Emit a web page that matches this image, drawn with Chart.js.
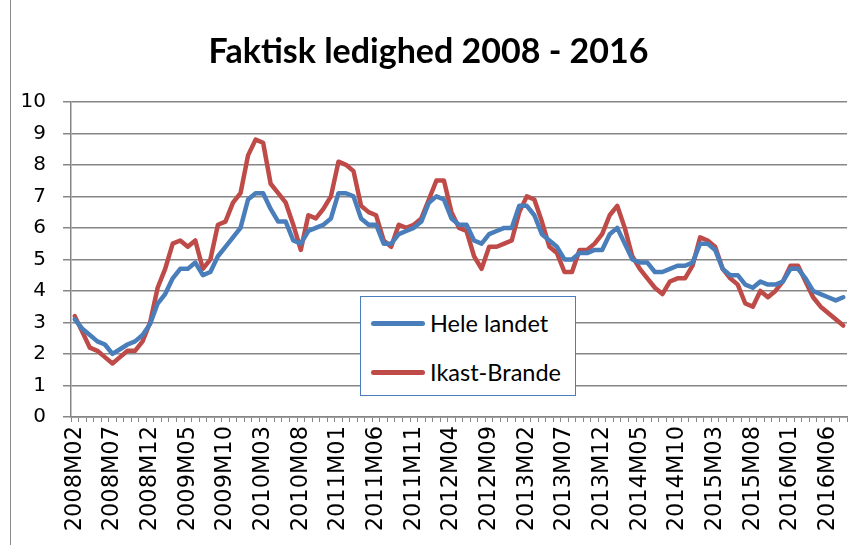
<!DOCTYPE html>
<html lang="da">
<head>
<meta charset="utf-8">
<title>Faktisk ledighed 2008 - 2016</title>
<script src="https://cdn.jsdelivr.net/npm/chart.js@4.4.0/dist/chart.umd.min.js"></script>
<style>
  body { margin: 0; background: #fff; }
  #wrap { position: relative; width: 852px; height: 545px; }
  #frame { position: absolute; left: 10px; top: 0; width: 0; height: 545px; border-left: 1px solid #8c8c8c; }
  #legend {
    position: absolute; left: 360px; top: 296px; width: 214px; height: 98px;
    border: 1px solid #4a7ebb; background: #fff;
    font-family: "Lato", sans-serif; font-size: 23.5px; color: #000;
  }
  #legend .item { position: absolute; left: 10px; display: flex; align-items: center; }
  #legend .swatch { width: 54px; height: 5px; border-radius: 3px; margin-right: 5px; }
</style>
</head>
<body>
<div id="wrap">
  <canvas id="myChart" width="852" height="545"></canvas>
  <div id="frame"></div>
  <div id="legend"></div>
</div>
<script>
// maaneder 2008M02 .. 2016M08
const months = [];
for (let y = 2008; y <= 2016; y++) {
  for (let m = 1; m <= 12; m++) {
    if (y === 2008 && m < 2) continue;
    if (y === 2016 && m > 8) continue;
    months.push(y + 'M' + String(m).padStart(2, '0'));
  }
}

const heleLandet = [
  3.1, 2.8, 2.6, 2.4, 2.3, 2.0, 2.15, 2.3, 2.4, 2.6, 2.95,
  3.6, 3.9, 4.4, 4.7, 4.7, 4.9, 4.5, 4.6, 5.1, 5.4, 5.7, 6.0,
  6.9, 7.1, 7.1, 6.6, 6.2, 6.2, 5.6, 5.5, 5.9, 6.0, 6.1, 6.3,
  7.1, 7.1, 7.0, 6.3, 6.1, 6.1, 5.5, 5.5, 5.8, 5.9, 6.0, 6.2,
  6.8, 7.0, 6.9, 6.3, 6.1, 6.1, 5.6, 5.5, 5.8, 5.9, 6.0, 6.0,
  6.7, 6.7, 6.4, 5.8, 5.6, 5.4, 5.0, 5.0, 5.2, 5.2, 5.3, 5.3,
  5.8, 6.0, 5.5, 5.0, 4.9, 4.9, 4.6, 4.6, 4.7, 4.8, 4.8, 4.9,
  5.5, 5.5, 5.3, 4.7, 4.5, 4.5, 4.2, 4.1, 4.3, 4.2, 4.2, 4.3,
  4.7, 4.7, 4.4, 4.0, 3.9, 3.8, 3.7, 3.8
];

const ikastBrande = [
  3.2, 2.7, 2.2, 2.1, 1.9, 1.7, 1.9, 2.1, 2.1, 2.4, 3.0,
  4.1, 4.7, 5.5, 5.6, 5.4, 5.6, 4.7, 5.0, 6.1, 6.2, 6.8, 7.1,
  8.3, 8.8, 8.7, 7.4, 7.1, 6.8, 6.1, 5.3, 6.4, 6.3, 6.6, 7.0,
  8.1, 8.0, 7.8, 6.7, 6.5, 6.4, 5.6, 5.4, 6.1, 6.0, 6.1, 6.3,
  6.9, 7.5, 7.5, 6.5, 6.0, 5.9, 5.1, 4.7, 5.4, 5.4, 5.5, 5.6,
  6.5, 7.0, 6.9, 6.2, 5.4, 5.2, 4.6, 4.6, 5.3, 5.3, 5.5, 5.8,
  6.4, 6.7, 6.0, 5.1, 4.7, 4.4, 4.1, 3.9, 4.3, 4.4, 4.4, 4.8,
  5.7, 5.6, 5.4, 4.7, 4.4, 4.2, 3.6, 3.5, 4.0, 3.8, 4.0, 4.3,
  4.8, 4.8, 4.3, 3.8, 3.5, 3.3, 3.1, 2.9
];

const gridColor = '#868686';

const data = {
  labels: months,
  datasets: [{
    label: 'Hele landet',
    data: heleLandet,
    borderColor: '#4a7ebb',
    backgroundColor: '#4a7ebb',
    borderWidth: 4.5,
    pointRadius: 0,
    tension: 0,
    borderJoinStyle: 'round',
    borderCapStyle: 'round'
  },
  {
    label: 'Ikast-Brande',
    data: ikastBrande,
    borderColor: '#be4b48',
    backgroundColor: '#be4b48',
    borderWidth: 4.5,
    pointRadius: 0,
    tension: 0,
    borderJoinStyle: 'round',
    borderCapStyle: 'round'
  }]
};

const config = {
  type: 'line',
  data: data,
  options: {
    responsive: false,
    animation: false,
    layout: { padding: { left: 10, right: 5, top: 0, bottom: 0 } },
    scales: {
      x: {
        offset: true,
        grid: { offset: true, drawOnChartArea: false, tickLength: 5, color: gridColor },
        border: { color: gridColor, width: 1.5 },
        ticks: {
          autoSkip: false,
          minRotation: 90,
          maxRotation: 90,
          padding: 4,
          color: '#000',
          font: { family: 'DejaVu Sans', size: 22.5 },
          callback: (v, i) => (i % 5 === 0 ? months[i] : '')
        },
        afterFit: s => { s.height = 128; s.paddingLeft = 0; s.paddingRight = 0; }
      },
      y: {
        min: 0,
        max: 10,
        grid: { color: gridColor, lineWidth: 1.5, tickLength: 8 },
        border: { color: gridColor, width: 1.5 },
        ticks: {
          stepSize: 1,
          padding: 17,
          color: '#000',
          font: { family: 'DejaVu Sans', size: 20 }
        },
        afterFit: s => { s.width = 61; }
      }
    },
    plugins: {
      title: {
        display: true,
        text: 'Faktisk ledighed 2008 - 2016',
        color: '#000',
        font: { family: 'Lato', size: 34, weight: 'bold' },
        padding: { top: 32, bottom: 29 }
      },
      legend: { display: false },
      tooltip: { enabled: false }
    }
  }
};

const myChart = new Chart(document.getElementById('myChart'), config);

// legend box inside the plot, like the original
const legendBox = document.getElementById('legend');
myChart.data.datasets.forEach((ds, k) => {
  const item = document.createElement('div');
  item.className = 'item';
  item.style.top = (k === 0 ? 12 : 61) + 'px';
  const sw = document.createElement('span');
  sw.className = 'swatch';
  sw.style.background = ds.borderColor;
  const txt = document.createElement('span');
  txt.textContent = ds.label;
  item.appendChild(sw);
  item.appendChild(txt);
  legendBox.appendChild(item);
});
</script>
</body>
</html>
